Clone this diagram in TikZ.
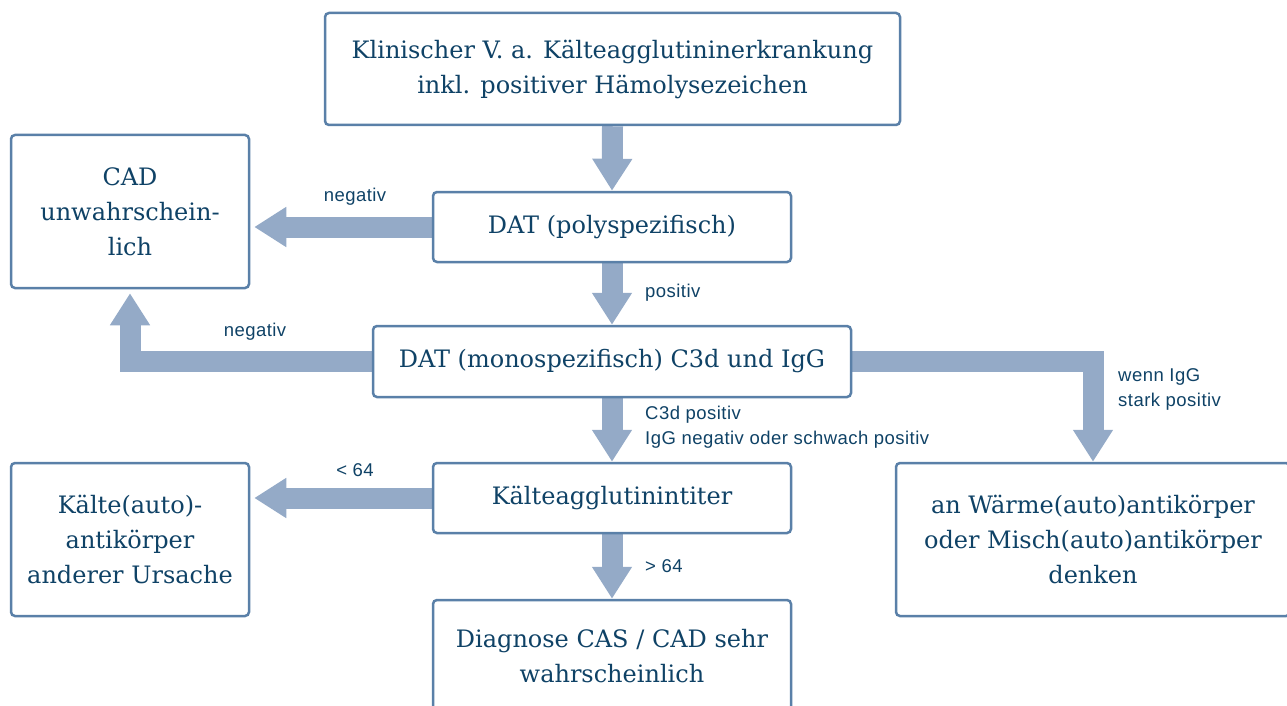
\documentclass[tikz,border=0pt]{standalone}
\usepackage{fontspec}
\setmainfont{DejaVu Serif}
\newfontfamily\labfont[LetterSpace=2.5]{Liberation Sans}
\usetikzlibrary{arrows.meta}
\definecolor{txtblue}{HTML}{0F4266}
\definecolor{boxline}{HTML}{5A80A8}
\definecolor{flow}{HTML}{94AAC7}
\pgfdeclarelayer{bg}
\pgfsetlayers{bg,main}
\tikzset{
  stepbox/.style={draw=boxline, line width=2.5pt, rounded corners=4pt, fill=white,
    text=txtblue, align=center, inner sep=0pt,
    font=\fontsize{24}{35}\selectfont},
  flowarrow/.style={draw=flow, line width=21pt,
    -{Triangle[width=38pt,length=32pt]}, color=flow},
  lab/.style={text=txtblue, align=left, inner sep=0pt,
    font=\labfont\fontsize{18.5}{25}\selectfont}
}
\begin{document}
\begin{tikzpicture}[x=1pt,y=-1pt]
\useasboundingbox (0,0) rectangle (1287,706);
% boxes
\node[stepbox, minimum width=575pt, minimum height=112pt] (top) at (612.5,69)
  {Klinischer V.~a. Kälteagglutininerkrankung\\inkl. positiver Hämolysezeichen};
\node[stepbox, minimum width=238pt, minimum height=153pt] (cad) at (130,211.5)
  {CAD\\unwahrschein-\\lich};
\node[stepbox, minimum width=358pt, minimum height=70pt] (poly) at (612,227)
  {DAT (polyspezifisch)};
\node[stepbox, minimum width=478pt, minimum height=71pt] (mono) at (612,361.5)
  {DAT (monospezifisch) C3d und IgG};
\node[stepbox, minimum width=358pt, minimum height=70pt] (titer) at (612,498)
  {Kälteagglutinintiter};
\node[stepbox, minimum width=238pt, minimum height=153pt] (kalt) at (130,539.5)
  {Kälte(auto)-\\antikörper\\anderer Ursache};
\node[stepbox, minimum width=394pt, minimum height=153pt] (warm) at (1093,539.5)
  {an Wärme(auto)antikörper\\oder Misch(auto)antikörper\\denken};
\node[stepbox, minimum width=358pt, minimum height=112pt] (diag) at (612,656)
  {Diagnose CAS / CAD sehr\\wahrscheinlich};
% connectors
\begin{pgfonlayer}{bg}
\draw[flowarrow] (top.south) -- (poly.north);
\draw[flowarrow, shorten >=4pt] (poly.west) -- (cad.east |- poly.west);
\draw[flowarrow] (poly.south) -- (mono.north);
\draw[flowarrow, shorten >=4pt] (mono.west) -| (cad.south);
\draw[flowarrow] (mono.east) -| (warm.north);
\draw[flowarrow] (mono.south) -- (titer.north);
\draw[flowarrow, shorten >=4pt] (titer.west) -- (kalt.east |- titer.west);
\draw[flowarrow] (titer.south) -- (diag.north);
\end{pgfonlayer}
% labels
\node[lab] (l1) at (355,197) {negativ};
\node[lab, anchor=west] (l2) at (645,293) {positiv};
\node[lab] (l3) at (255,332) {negativ};
\node[lab, anchor=west] (l4) at (645,427) {C3d positiv\\IgG negativ oder schwach positiv};
\node[lab, anchor=west] (l5) at (1118,389) {wenn IgG\\stark positiv};
\node[lab] (l6) at (355,470) {< 64};
\node[lab, anchor=west] (l7) at (645,566) {> 64};
\end{tikzpicture}
\end{document}
